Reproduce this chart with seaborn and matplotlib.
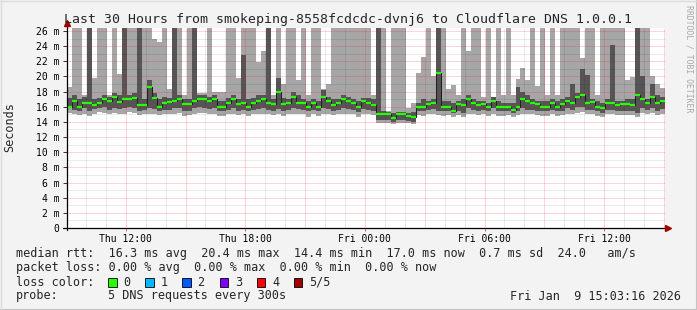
import numpy as np
import pandas as pd
import matplotlib
matplotlib.use("Agg")
import matplotlib.pyplot as plt
from matplotlib.patches import Rectangle
from matplotlib.lines import Line2D
import seaborn as sns

# ---------------- data ----------------
title = "Last 30 Hours from smokeping-8558fcdcdc-dvnj6 to Cloudflare DNS 1.0.0.1"
start_hour = 9 + 3 / 60 + 16 / 3600      # Thu 09:03:16 (hours since Thu 00:00)
span_hours = 30
step_hours = 0.25

median_ms = [16.0, 16.8, 16.0, 16.5, 16.5, 16.2, 16.5, 17.0, 16.8, 17.3,
             16.6, 17.0, 17.0, 17.2, 16.2, 16.2, 18.6, 17.2, 16.0, 16.5,
             16.6, 16.8, 17.0, 16.3, 16.3, 16.8, 17.0, 17.0, 16.8, 17.0,
             16.0, 16.0, 16.5, 17.0, 16.3, 16.5, 16.0, 16.5, 16.8, 17.0,
             16.5, 16.3, 18.0, 16.3, 16.5, 17.3, 16.5, 16.5, 16.0, 16.5,
             16.0, 17.3, 16.8, 16.2, 16.5, 17.0, 16.8, 16.5, 16.0, 16.8,
             16.5, 16.2, 15.0, 15.0, 15.0, 14.5, 15.0, 15.0, 14.8, 14.6,
             16.0, 16.0, 16.3, 16.5, 20.4, 16.0, 16.0, 15.5, 16.3, 16.2,
             17.0, 16.5, 16.2, 16.3, 16.0, 16.8, 16.0, 16.0, 16.0, 15.6,
             16.0, 17.0, 16.8, 16.5, 16.3, 16.0, 16.0, 16.5, 16.0, 16.3,
             16.8, 16.5, 17.3, 17.5, 16.5, 16.6, 16.0, 15.8, 16.5, 16.5,
             16.2, 16.3, 16.3, 16.2, 17.5, 17.0, 16.5, 17.3, 16.5, 16.8]

# lowest ping (bottom of light smoke)
lo_ms = [15.2, 15.0, 14.9, 15.0, 14.8, 15.1, 15.3, 15.2, 15.0, 15.2,
         15.0, 15.1, 15.3, 15.2, 14.9, 15.0, 15.1, 15.0, 14.9, 15.0,
         15.0, 15.1, 15.2, 14.8, 14.9, 15.1, 15.2, 15.2, 15.0, 15.1,
         14.8, 14.8, 15.0, 15.1, 14.9, 15.0, 14.8, 15.0, 15.0, 15.1,
         15.0, 14.9, 15.0, 14.8, 15.0, 15.1, 15.0, 15.0, 14.7, 15.0,
         14.8, 15.1, 15.0, 14.9, 15.0, 15.1, 15.0, 15.0, 14.6, 15.0,
         15.0, 14.9, 13.9, 13.8, 13.9, 13.7, 13.9, 13.9, 13.8, 13.7,
         14.9, 14.8, 15.0, 15.0, 14.9, 14.8, 14.9, 14.6, 14.9, 14.6,
         15.1, 15.0, 14.9, 15.0, 14.8, 15.1, 14.8, 14.8, 14.9, 14.6,
         14.9, 15.1, 15.0, 15.0, 14.9, 14.8, 14.8, 15.0, 14.8, 14.9,
         15.1, 15.0, 15.2, 15.3, 15.0, 15.0, 14.8, 14.6, 15.0, 15.0,
         14.9, 14.9, 14.9, 14.9, 14.6, 15.2, 15.0, 15.2, 14.9, 15.1]

# 2nd ping (bottom of dark smoke)
dlo_ms = [15.8, 15.6, 15.5, 15.8, 15.5, 15.7, 15.8, 15.9, 15.6, 15.8,
          15.7, 15.8, 16.0, 15.8, 15.5, 15.6, 15.8, 15.7, 15.5, 15.6,
          15.6, 15.8, 15.8, 15.5, 15.5, 15.8, 15.9, 15.8, 15.7, 15.8,
          15.4, 15.4, 15.6, 15.8, 15.5, 15.6, 15.5, 15.6, 15.7, 15.8,
          15.6, 15.5, 15.7, 15.5, 15.6, 15.8, 15.7, 15.6, 15.4, 15.6,
          15.4, 15.8, 15.7, 15.5, 15.6, 15.8, 15.7, 15.6, 15.3, 15.7,
          15.6, 15.5, 14.3, 14.2, 14.2, 14.0, 14.2, 14.2, 14.1, 14.0,
          15.5, 15.4, 15.6, 15.7, 15.5, 15.4, 15.5, 15.2, 15.5, 15.2,
          15.8, 15.6, 15.5, 15.6, 15.4, 15.8, 15.4, 15.4, 15.5, 15.2,
          15.5, 15.8, 15.6, 15.6, 15.5, 15.4, 15.4, 15.6, 15.4, 15.5,
          15.8, 15.6, 15.9, 16.0, 15.6, 15.6, 15.4, 15.2, 15.6, 15.6,
          15.5, 15.5, 15.5, 15.5, 15.2, 15.8, 15.6, 15.8, 15.5, 15.7]

# 4th ping (top of dark smoke), 27 = above the chart
dhi_ms = [17.2, 17.5, 17.0, 17.3, 27.0, 17.0, 17.2, 17.5, 17.3, 17.8,
          17.5, 27.0, 17.5, 17.8, 27.0, 17.0, 19.5, 17.8, 17.0, 17.3,
          17.2, 27.0, 17.5, 17.0, 17.0, 27.0, 17.5, 17.5, 17.3, 17.5,
          16.8, 16.8, 17.2, 17.5, 17.0, 22.8, 17.0, 17.2, 17.5, 17.5,
          27.0, 17.0, 19.8, 17.2, 17.0, 18.0, 17.5, 17.0, 16.8, 17.0,
          16.8, 18.2, 17.3, 17.0, 17.0, 17.5, 17.3, 17.0, 16.8, 17.2,
          17.2, 17.0, 27.0, 15.5, 15.3, 15.2, 15.3, 15.3, 15.2, 15.3,
          16.5, 17.0, 16.8, 17.0, 27.0, 16.8, 16.8, 16.5, 16.8, 17.0,
          17.5, 17.0, 16.8, 16.8, 16.5, 17.3, 16.8, 16.5, 16.5, 16.5,
          18.6, 18.0, 17.5, 17.0, 16.8, 16.8, 16.8, 17.0, 16.8, 17.0,
          17.3, 19.0, 17.8, 21.0, 20.2, 17.0, 16.8, 16.5, 17.0, 24.2,
          16.8, 16.8, 17.0, 17.0, 27.0, 20.0, 17.0, 19.0, 17.5, 17.3]

# highest ping (top of light smoke), 27 = above the chart
hi_ms = [18.6, 27.0, 27.0, 17.6, 27.0, 19.8, 27.0, 27.0, 17.6, 27.0,
         20.3, 27.0, 27.0, 27.0, 27.0, 27.0, 27.0, 24.9, 24.6, 27.0,
         18.4, 27.0, 27.0, 17.5, 27.0, 27.0, 17.8, 17.8, 27.0, 18.0,
         18.0, 18.0, 27.0, 27.0, 19.8, 27.0, 27.0, 27.0, 21.9, 23.4,
         27.0, 17.5, 27.0, 19.0, 27.0, 27.0, 19.5, 27.0, 17.5, 27.0,
         27.0, 18.4, 19.0, 27.0, 27.0, 27.0, 27.0, 27.0, 27.0, 27.0,
         27.0, 17.5, 27.0, 27.0, 15.5, 27.0, 27.0, 27.0, 15.8, 16.5,
         20.4, 22.6, 27.0, 20.0, 27.0, 27.0, 18.3, 18.9, 17.5, 27.0,
         23.4, 27.0, 27.0, 17.3, 27.0, 17.3, 27.0, 17.5, 27.0, 17.5,
         19.6, 21.1, 19.5, 27.0, 18.7, 27.0, 17.5, 27.0, 17.5, 27.0,
         27.0, 27.0, 27.0, 22.4, 27.0, 27.0, 17.5, 27.0, 27.0, 27.0,
         27.0, 27.0, 19.5, 19.9, 27.0, 27.0, 27.0, 20.0, 19.0, 18.5]

x_ticks = [12, 18, 24, 30, 36]
x_tick_labels = ["Thu 12:00", "Thu 18:00", "Fri 00:00", "Fri 06:00", "Fri 12:00"]
y_ticks = list(range(0, 27, 2))
y_tick_labels = ["0"] + [f"{v} m" for v in range(2, 27, 2)]

legend_rtt = "median rtt:  16.3 ms avg  20.4 ms max  14.4 ms min  17.0 ms now  0.7 ms sd  24.0   am/s"
legend_loss = "packet loss: 0.00 % avg  0.00 % max  0.00 % min  0.00 % now"
loss_labels = ["0", "1", "2", "3", "4", "5/5"]
loss_colors = ["#26ff00", "#00b8ff", "#0059ff", "#7e00ff", "#ff0000", "#a10000"]
probe_text = "5 DNS requests every 300s"
stamp_text = "Fri Jan  9 15:03:16 2026"

# ---------------- style ----------------
sns.set_style("white")
mono = ["DejaVu Sans Mono"]
plt.rcParams["font.family"] = mono

W, H = 697, 310
BG = "#f3f3f3"
fig = plt.figure(figsize=(W / 100, H / 100), dpi=100, facecolor=BG)

x0, x1, ytop, ybot = 67, 665, 28, 228
ax = fig.add_axes([x0 / W, 1 - ybot / H, (x1 - x0) / W, (ybot - ytop) / H])
ax.set_facecolor("white")

n = len(median_ms)
edges = start_hour + step_hours * np.arange(n + 1)
df = pd.DataFrame({
    "hour": edges,
    "median": median_ms + [median_ms[-1]],
    "lo": lo_ms + [lo_ms[-1]],
    "dlo": dlo_ms + [dlo_ms[-1]],
    "dhi": dhi_ms + [dhi_ms[-1]],
    "hi": hi_ms + [hi_ms[-1]],
})

ymax = (ybot - ytop) / 7.58
ax.set_xlim(start_hour, start_hour + span_hours)
ax.set_ylim(0, ymax)

# smoke
ax.fill_between(df["hour"], df["lo"], df["hi"], step="post", color="#a6a6a6", lw=0, zorder=1)
ax.fill_between(df["hour"], df["dlo"], df["dhi"], step="post", color="#555555", lw=0, zorder=1.2)

# grid (drawn over the smoke, translucent like rrdtool)
dots = (0, (1, 1))
for h in range(10, 40):
    if h % 3 != 0:
        ax.axvline(h, color="black", alpha=0.16, lw=0.72, ls=dots, zorder=2)
for v in range(1, 27, 2):
    ax.axhline(v, color="black", alpha=0.16, lw=0.72, ls=dots, zorder=2)
for h in range(12, 40, 3):
    ax.axvline(h, color="red", alpha=0.33, lw=0.72, ls=dots, zorder=2.1)
for v in range(2, 27, 2):
    ax.axhline(v, color="red", alpha=0.33, lw=0.72, ls=dots, zorder=2.1)

# median line
sns.lineplot(data=df, x="hour", y="median", drawstyle="steps-post", color="#202020",
             lw=0.75, ax=ax, legend=False, estimator=None, zorder=3)
ax.hlines(median_ms, edges[:-1], edges[1:], color=loss_colors[0], lw=1.6, zorder=4)

# axes
for s in ax.spines.values():
    s.set_visible(False)
ax.set_xlabel("")
ax.set_ylabel("")
ax.set_xticks(x_ticks)
ax.set_xticklabels(x_tick_labels)
ax.set_yticks(y_ticks)
ax.set_yticklabels(y_tick_labels)
ax.tick_params(axis="y", length=3, width=0.7, color="#333333", pad=2.6, labelsize=7,
               labelcolor="black", direction="out", left=True)
ax.tick_params(axis="x", length=2, width=0.7, color="#e06060", pad=2.6, labelsize=7,
               labelcolor="black", direction="out", bottom=True)

fig.add_artist(Line2D([x0 / W, x0 / W], [1 - (ybot + 2) / H, 1 - 22 / H],
                      color="black", lw=0.9, transform=fig.transFigure))
fig.add_artist(Line2D([(x0 - 4) / W, 668 / W], [1 - ybot / H, 1 - ybot / H],
                      color="black", lw=0.9, transform=fig.transFigure))
fig.add_artist(Line2D([x0 / W], [1 - 23 / H], marker="^", ms=4.5, color="#a00000",
                      lw=0, transform=fig.transFigure))
fig.add_artist(Line2D([668 / W], [1 - ybot / H], marker=">", ms=4.5, color="#a00000",
                      lw=0, transform=fig.transFigure))

# texts
def ftext(x, y, s, **kw):
    kw.setdefault("fontsize", 8.5)
    kw.setdefault("va", "center")
    fig.text(x / W, 1 - y / H, s, **kw)

ftext(348, 19, title, ha="center", fontsize=9.5)
ftext(10, 127, "Seconds", ha="center", rotation=90)
ftext(689, 59, "RRDTOOL / TOBI OETIKER", ha="center", rotation=270,
      fontsize=5.9, color="#a8a8a8")

ftext(16, 254, legend_rtt, ha="left")
ftext(16, 268, legend_loss, ha="left")
ftext(16, 282, "loss color:", ha="left")
box_x = [108, 145, 182, 219.5, 256.5, 293.5]
for bx, lab, col in zip(box_x, loss_labels, loss_colors):
    fig.add_artist(Rectangle((bx / W, 1 - 286.5 / H), 8.5 / W, 8.5 / H, facecolor=col,
                             edgecolor="black", lw=0.6, transform=fig.transFigure))
    ftext(bx + 15.5, 282, lab, ha="left")
ftext(16, 296, "probe:", ha="left")
ftext(107.5, 296, probe_text, ha="left")
ftext(681, 296, stamp_text, ha="right")

# frame
fig.add_artist(Line2D([0, 1], [0.5 / H, 0.5 / H], color="#c4c4c4", lw=1.5, transform=fig.transFigure))
fig.add_artist(Line2D([1 - 0.5 / W, 1 - 0.5 / W], [0, 1], color="#c4c4c4", lw=1.5, transform=fig.transFigure))
fig.add_artist(Line2D([0, 1], [1 - 0.5 / H, 1 - 0.5 / H], color="#dcdcdc", lw=1.0, transform=fig.transFigure))
fig.add_artist(Line2D([0.5 / W, 0.5 / W], [0, 1], color="#dcdcdc", lw=1.0, transform=fig.transFigure))

fig.savefig("out.png", dpi=100, facecolor=BG)
